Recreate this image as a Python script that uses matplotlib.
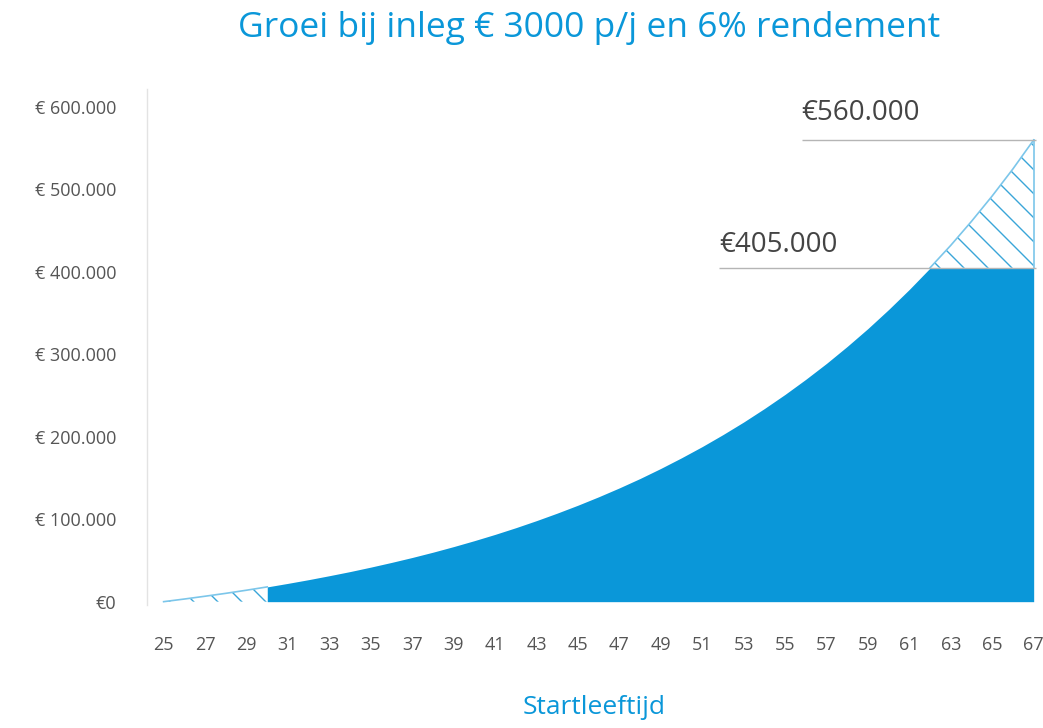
import numpy as np
import matplotlib.pyplot as plt

# Opgebouwd vermogen per leeftijd bij inleg van 3000 per jaar
ages = list(range(25, 68))
capital = [
    0, 3200, 6600, 10100, 13900, 17900, 22200, 26700, 31500, 36500,
    41900, 47600, 53600, 60000, 66800, 74000, 81600, 89700, 98300, 107400,
    117000, 127200, 138000, 149400, 161600, 174500, 188100, 202600, 217900, 234200,
    251400, 269700, 289000, 309600, 331300, 354400, 378800, 404700, 432200, 461300,
    492100, 524900, 560000,
]
start_age = 30
cap_value = 405000
end_value = 560000

y_ticks = [0, 100000, 200000, 300000, 400000, 500000, 600000]
y_labels = ['€0', '€ 100.000', '€ 200.000', '€ 300.000', '€ 400.000', '€ 500.000', '€ 600.000']
x_ticks = list(range(25, 68, 2))

blue = '#0a97d9'
hatch_blue = '#3aa6d8'
grey_text = '#555555'

# hogere dpi geeft een fijnere arcering; maten schalen mee
DPI = 144
K = 100 / DPI

plt.rcParams['font.family'] = ['Open Sans', 'DejaVu Sans']
plt.rcParams['hatch.linewidth'] = 1.0 * K
plt.rcParams['hatch.color'] = hatch_blue

x = np.array(ages, dtype=float)
y = np.array(capital, dtype=float)

fig = plt.figure(figsize=(1043 / DPI, 728 / DPI), dpi=DPI)
ax = fig.add_axes([0.141, 0.169, 0.858, 0.709])

# vast deel: vanaf startleeftijd, afgetopt op de inleg-grens
solid = np.minimum(y, cap_value)
ax.fill_between(x, 0, solid, where=x >= start_age, color=blue, linewidth=0)

# gearceerd: jaren voor de startleeftijd en de groei boven de grens
ax.fill_between(x, 0, y, where=x <= start_age, facecolor='white',
                edgecolor=hatch_blue, hatch='\\\\', linewidth=0)
ax.fill_between(x, cap_value, y, where=y >= cap_value, interpolate=True,
                facecolor='white', edgecolor=hatch_blue, hatch='\\\\', linewidth=0)
top = x >= 62
ax.plot(x[top], np.maximum(y[top], cap_value), color='#7cc6ea', lw=1.2 * K)
ax.plot([67, 67], [cap_value, end_value], color='#7cc6ea', lw=1.2 * K)
ax.plot(x[x <= start_age], y[x <= start_age], color='#7cc6ea', lw=1.2 * K)

# referentielijnen met bedragen
ax.hlines(end_value, 55.8, 67.1, color='#b5b5b5', lw=1.0 * K)
ax.hlines(cap_value, 51.8, 67.1, color='#b5b5b5', lw=1.0 * K)
ax.annotate('€560.000', (55.8, end_value), xytext=(0, 9 * K), textcoords='offset points',
            fontsize=20 * K, color='#444444', va='bottom', ha='left')
ax.annotate('€405.000', (51.8, cap_value), xytext=(0, 6 * K), textcoords='offset points',
            fontsize=20 * K, color='#444444', va='bottom', ha='left')

ax.set_xlim(24.2, 67.4)
ax.set_ylim(-4000, 622000)
ax.set_xticks(x_ticks)
ax.set_xticklabels([str(a) for a in x_ticks], fontsize=13 * K, color=grey_text)
ax.set_yticks(y_ticks)
ax.set_yticklabels(y_labels, fontsize=13 * K, color=grey_text)
ax.tick_params(length=0)
ax.tick_params(axis='x', pad=22 * K)
ax.tick_params(axis='y', pad=22 * K)

for side in ['top', 'right', 'bottom']:
    ax.spines[side].set_visible(False)
ax.spines['left'].set_color('#e3e3e3')
ax.spines['left'].set_linewidth(1.0 * K)

ax.set_xlabel('Startleeftijd', fontsize=19 * K, color=blue, labelpad=30 * K)
fig.suptitle('Groei bij inleg € 3000 p/j en 6% rendement', fontsize=25.5 * K,
             color=blue, x=0.565, y=0.985)

plt.savefig('out.png', dpi=DPI)
